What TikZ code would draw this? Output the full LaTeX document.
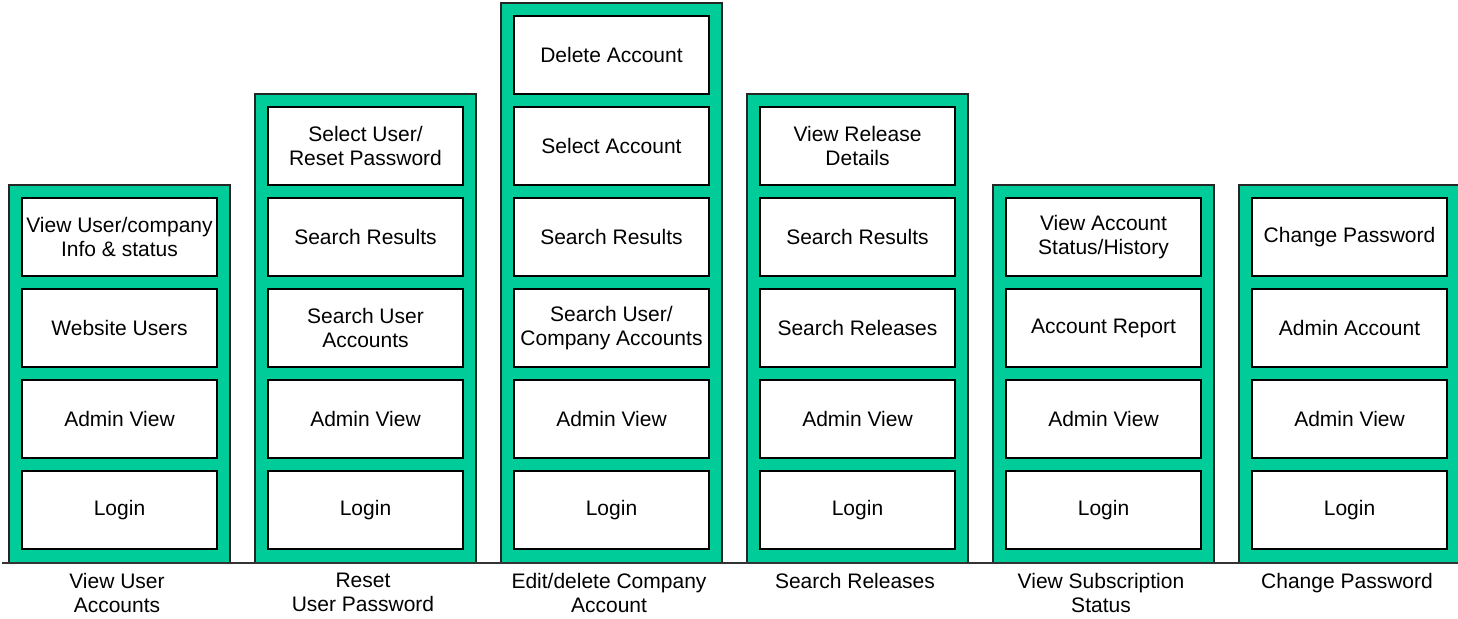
\documentclass[tikz,border=0pt]{standalone}
\usepackage{fontspec}
\setmainfont{Liberation Sans}
\definecolor{colgreen}{RGB}{0,204,153}
\tikzset{
  colbox/.style={draw=black!85, fill=colgreen, line width=2pt},
  itembox/.style={draw=black, fill=white, line width=2pt, minimum width=195pt,
    minimum height=78pt, inner sep=0pt, align=center, font=\fontsize{21}{24}\selectfont},
  collabel/.style={anchor=north, inner sep=0pt, align=center, font=\fontsize{21}{24}\selectfont}
}
\begin{document}
\begin{tikzpicture}[x=1pt,y=-1pt]
\useasboundingbox (0,0) rectangle (1458,618);
% column frames
\draw[colbox] (9,563) rectangle (230,185);
\draw[colbox] (255,563) rectangle (476,94);
\draw[colbox] (501,563) rectangle (722,3);
\draw[colbox] (747,563) rectangle (968,94);
\draw[colbox] (993,563) rectangle (1214,185);
\draw[colbox] (1239,563) rectangle (1460,185);
% baseline
\draw[line width=1.2pt, black!80] (2,563) -- (1458,563);
% column 1
\node[itembox] (a1) at (119.5,510) {Login};
\node[itembox] (a2) at (119.5,419) {Admin View};
\node[itembox] (a3) at (119.5,328) {Website Users};
\node[itembox] (a4) at (119.5,237) {View User/company\\Info \& status};
% column 2
\node[itembox] (b1) at (365.5,510) {Login};
\node[itembox] (b2) at (365.5,419) {Admin View};
\node[itembox] (b3) at (365.5,328) {Search User\\Accounts};
\node[itembox] (b4) at (365.5,237) {Search Results};
\node[itembox] (b5) at (365.5,146) {Select User/\\Reset Password};
% column 3
\node[itembox] (c1) at (611.5,510) {Login};
\node[itembox] (c2) at (611.5,419) {Admin View};
\node[itembox] (c3) at (611.5,328) {Search User/\\Company Accounts};
\node[itembox] (c4) at (611.5,237) {Search Results};
\node[itembox] (c5) at (611.5,146) {Select Account};
\node[itembox] (c6) at (611.5,55) {Delete Account};
% column 4
\node[itembox] (d1) at (857.5,510) {Login};
\node[itembox] (d2) at (857.5,419) {Admin View};
\node[itembox] (d3) at (857.5,328) {Search Releases};
\node[itembox] (d4) at (857.5,237) {Search Results};
\node[itembox] (d5) at (857.5,146) {View Release\\Details};
% column 5
\node[itembox] (e1) at (1103.5,510) {Login};
\node[itembox] (e2) at (1103.5,419) {Admin View};
\node[itembox] (e3) at (1103.5,328) {Account Report};
\node[itembox] (e4) at (1103.5,237) {View Account\\Status/History};
% column 6
\node[itembox] (f1) at (1349.5,510) {Login};
\node[itembox] (f2) at (1349.5,419) {Admin View};
\node[itembox] (f3) at (1349.5,328) {Admin Account};
\node[itembox] (f4) at (1349.5,237) {Change Password};
% labels
\node[collabel] (la) at (117,573) {View User\\Accounts};
\node[collabel] (lb) at (363,573) {Reset\\User Password};
\node[collabel] (lc) at (609,573) {Edit/delete Company\\Account};
\node[collabel] (ld) at (855,573) {Search Releases};
\node[collabel] (le) at (1101,573) {View Subscription\\Status};
\node[collabel] (lf) at (1347,573) {Change Password};
\end{tikzpicture}
\end{document}
